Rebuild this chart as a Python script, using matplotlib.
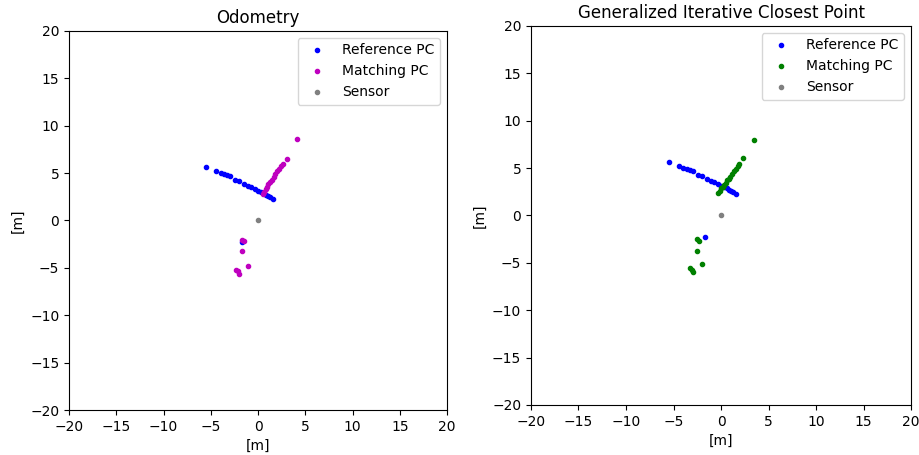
import numpy as np
import matplotlib
matplotlib.use("Agg")
import matplotlib.pyplot as plt

# reference scan (same in both views)
ref_x = [-5.5, -4.45, -3.95, -3.6, -3.3, -2.98, -2.42, -2.0, -1.48, -1.04,
         -0.69, -0.33, 0.05, 0.35, 0.6, 0.85, 1.05, 1.3, 1.6, -1.7]
ref_y = [5.65, 5.2, 5.0, 4.88, 4.78, 4.67, 4.3, 4.14, 3.86, 3.68,
         3.5, 3.32, 3.15, 3.0, 2.87, 2.74, 2.62, 2.45, 2.25, -2.25]

# matching scan placed by odometry
odom_x = [0.5, 0.65, 0.8, 0.95, 1.1, 1.25, 1.45, 1.65, 1.85, 2.05, 2.25,
          2.45, 2.65, 3.1, 4.15, -1.7, -1.5, -1.65, -1.05, -2.3, -2.1, -2.0]
odom_y = [2.8, 3.05, 3.3, 3.55, 3.8, 4.05, 4.3, 4.6, 4.9, 5.2, 5.45,
          5.7, 5.95, 6.5, 8.55, -2.05, -2.15, -3.2, -4.8, -5.2, -5.35, -5.6]

# matching scan after GICP alignment
gicp_x = [-0.3, -0.1, 0.05, 0.2, 0.35, 0.5, 0.65, 0.8, 0.95, 1.15, 1.35, 1.55,
          1.75, 1.9, 2.35, 3.5, -2.55, -2.3, -2.5, -2.0, -3.25, -3.1, -2.95]
gicp_y = [2.35, 2.6, 2.85, 3.05, 3.25, 3.45, 3.7, 3.9, 4.1, 4.35, 4.7, 4.95,
          5.2, 5.45, 6.05, 7.95, -2.5, -2.65, -3.7, -5.15, -5.55, -5.75, -5.95]

sensor_x = [0.0]
sensor_y = [0.0]

ticks = np.arange(-20, 21, 5)

fig = plt.figure(figsize=(9.19, 4.55), dpi=100)
ax1 = fig.add_axes([0.0751, 0.0989, 0.4113, 0.833])
ax2 = fig.add_axes([0.5778, 0.1099, 0.4135, 0.833])


def draw(ax, mx, my, mcolor, title):
    ax.plot(ref_x, ref_y, '.', color='b', label='Reference PC')
    ax.plot(mx, my, '.', color=mcolor, label='Matching PC')
    ax.plot(sensor_x, sensor_y, '.', color='grey', label='Sensor')
    ax.set_xlim(-20, 20)
    ax.set_ylim(-20, 20)
    ax.set_xticks(ticks)
    ax.set_yticks(ticks)
    ax.set_xlabel('[m]')
    ax.set_ylabel('[m]')
    ax.set_title(title)
    ax.legend(loc='upper right')


draw(ax1, odom_x, odom_y, 'm', 'Odometry')
draw(ax2, gicp_x, gicp_y, 'g', 'Generalized Iterative Closest Point')

fig.savefig('out.png', dpi=100)
